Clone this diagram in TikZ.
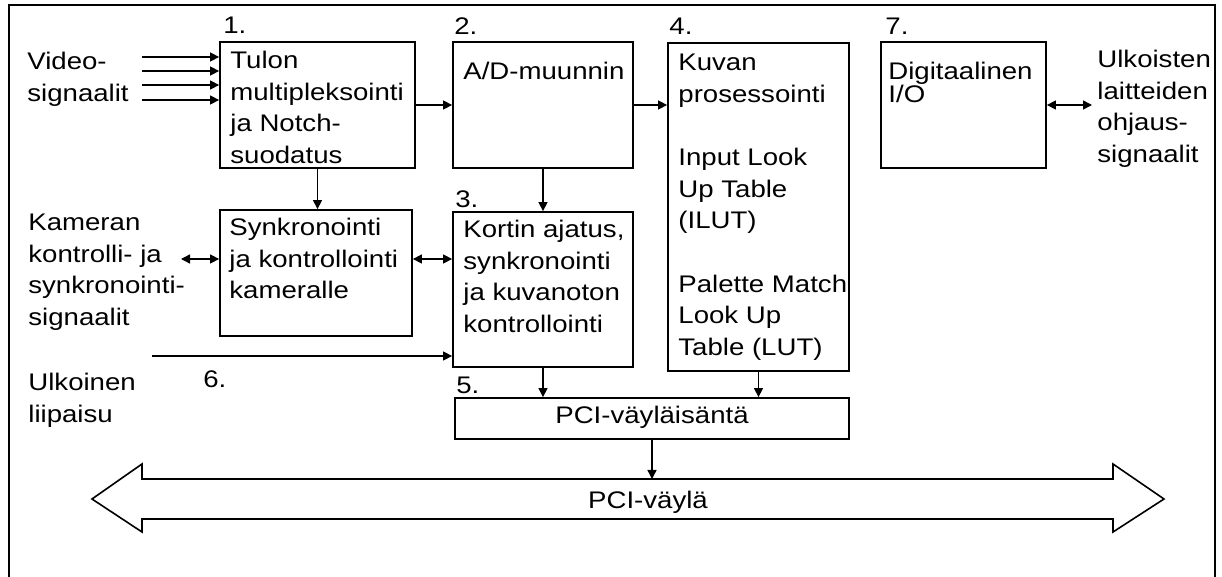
\documentclass[tikz,border=0pt]{standalone}
\usepackage{fontspec}
\setmainfont{Liberation Sans}[FakeStretch=1.15]
\usetikzlibrary{arrows.meta,fit}
\newcommand{\fstrut}{\rule{0pt}{9.5pt}}
\begin{document}
\begin{tikzpicture}[x=0.5pt,y=-0.5pt,
  box/.style={draw, line width=0.9pt, inner sep=0pt},
  txt/.style={anchor=north west, inner sep=0pt, align=left, font=\fontsize{12}{15.85}\selectfont},
  ctxt/.style={anchor=base, inner sep=0pt, font=\fontsize{12}{15.85}\selectfont},
  arr/.style={line width=0.7pt, -{Triangle[length=4.5pt,width=4.5pt]}},
  darr/.style={line width=0.7pt, {Triangle[length=4.5pt,width=4.5pt]}-{Triangle[length=4.5pt,width=4.5pt]}}]
\useasboundingbox (0,0) rectangle (1222,577);
% outer frame
\draw[line width=0.8pt] (9,577) -- (9,5) -- (1215,5) -- (1215,577);
% boxes
\node[box, fit={(220,42) (415,168)}] (b1) {};
\node[box, fit={(453,42) (633,168)}] (b2) {};
\node[box, fit={(668,43) (849,371)}] (b4) {};
\node[box, fit={(881,42) (1046,168)}] (b7) {};
\node[box, fit={(220,210) (412,336)}] (syn) {};
\node[box, fit={(453,212) (633,367)}] (b3) {};
\node[box, fit={(455,398) (849,439)}] (b5) {};
% number labels
\node[txt] (n1) at (223,14) {\fstrut 1.};
\node[txt] (n2) at (454,15) {\fstrut 2.};
\node[txt] (n3) at (455,188) {\fstrut 3.};
\node[txt] (n4) at (669,15) {\fstrut 4.};
\node[txt] (n5) at (456,374) {\fstrut 5.};
\node[txt] (n6) at (203,368) {\fstrut 6.};
\node[txt] (n7) at (885,15) {\fstrut 7.};
% box texts
\node[txt] (t1) at (230,49) {\fstrut Tulon\\multipleksointi\\ja Notch-\\suodatus};
\node[txt] (t2) at (463,60) {\fstrut A/D-muunnin};
\node[txt] (t4) at (678,51) {\fstrut Kuvan\\prosessointi\\[15.85pt]Input Look\\Up Table\\(ILUT)\\[15.85pt]Palette Match\\Look Up\\Table (LUT)};
\node[txt] (t7) at (888,60) {\fstrut Digitaalinen\\[-4.3pt]I/O};
\node[txt] (tsyn) at (229,216) {\fstrut Synkronointi\\ja kontrollointi\\kameralle};
\node[txt] (t3) at (463,218) {\fstrut Kortin ajatus,\\synkronointi\\ja kuvanoton\\kontrollointi};
\node[ctxt] (t5) at (652,423) {PCI-väyläisäntä};
% outside texts
\node[txt] (video) at (27,50) {\fstrut Video-\\signaalit};
\node[txt] (ulk) at (1097,48) {\fstrut Ulkoisten\\laitteiden\\ohjaus-\\signaalit};
\node[txt] (kam) at (28,211) {\fstrut Kameran\\kontrolli- ja\\synkronointi-\\signaalit};
\node[txt] (liip) at (28,371) {\fstrut Ulkoinen\\liipaisu};
% bus
\draw[line width=0.8pt, fill=white] (92,499) -- (142,464) -- (142,479) -- (1113,479) -- (1113,464)
  -- (1164,499) -- (1113,532) -- (1113,519) -- (142,519) -- (142,532) -- cycle;
\node[ctxt] (bus) at (648,509) {PCI-väylä};
\coordinate (bustop) at (652,479);
% free ends
\coordinate (v1) at (142,57);
\coordinate (v2) at (142,71);
\coordinate (v3) at (142,85);
\coordinate (v4) at (142,100);
\coordinate (k1) at (181,259);
\coordinate (u1) at (1092,105);
\coordinate (e6) at (152,356);
% connectors
\draw[arr] (v1) -- (v1 -| b1.west);
\draw[arr] (v2) -- (v2 -| b1.west);
\draw[arr] (v3) -- (v3 -| b1.west);
\draw[arr] (v4) -- (v4 -| b1.west);
\draw[arr] (b1.east) -- (b2.west);
\draw[arr] (b2.east) -- (b2.east -| b4.west);
\draw[darr] (b7.east) -- (u1);
\draw[arr] (b1.south) -- (b1.south |- syn.north);
\draw[arr] (b2.south) -- (b3.north);
\draw[darr] (k1) -- (k1 -| syn.west);
\draw[darr] (syn.east |- k1) -- (b3.west |- k1);
\draw[arr] (e6) -- (e6 -| b3.west);
\draw[arr] (b3.south) -- (b3.south |- b5.north);
\draw[arr] (b4.south) -- (b4.south |- b5.north);
\draw[arr] (b5.south) -- (bustop);
\end{tikzpicture}
\end{document}
